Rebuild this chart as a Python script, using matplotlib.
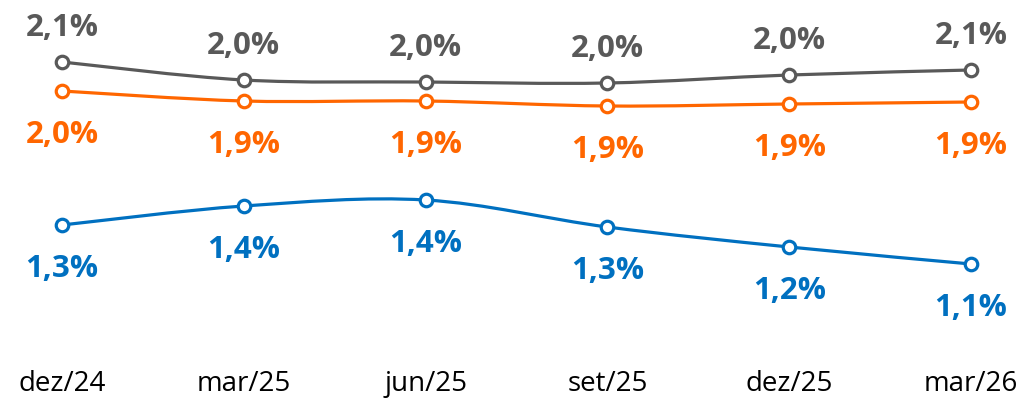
import matplotlib.pyplot as plt
import numpy as np
from matplotlib.path import Path
from matplotlib.patches import PathPatch

plt.rcParams['font.family'] = ['Open Sans', 'DejaVu Sans']

meses = ["dez/24", "mar/25", "jun/25", "set/25", "dez/25", "mar/26"]

# valores (posição) e rótulos exibidos
cinza = [2.115, 2.025, 2.015, 2.01, 2.05, 2.075]
cinza_rot = ["2,1%", "2,0%", "2,0%", "2,0%", "2,0%", "2,1%"]
laranja = [1.97, 1.92, 1.92, 1.895, 1.905, 1.915]
laranja_rot = ["2,0%", "1,9%", "1,9%", "1,9%", "1,9%", "1,9%"]
azul = [1.30, 1.395, 1.425, 1.29, 1.19, 1.105]
azul_rot = ["1,3%", "1,4%", "1,4%", "1,3%", "1,2%", "1,1%"]

series = [
    (cinza, cinza_rot, "#595959", 1),
    (laranja, laranja_rot, "#FF6600", -1),
    (azul, azul_rot, "#0070C0", -1),
]


def curva_suave(ax, x, y, cor):
    # curva tipo "linha suavizada" do Excel (Catmull-Rom -> Bezier)
    x = np.asarray(x, float)
    y = np.asarray(y, float)
    n = len(x)
    verts = [(x[0], y[0])]
    codes = [Path.MOVETO]
    t = 1 / 6
    for i in range(n - 1):
        p0 = (x[max(i - 1, 0)], y[max(i - 1, 0)])
        p1 = (x[i], y[i])
        p2 = (x[i + 1], y[i + 1])
        p3 = (x[min(i + 2, n - 1)], y[min(i + 2, n - 1)])
        c1 = (p1[0] + (p2[0] - p0[0]) * t, p1[1] + (p2[1] - p0[1]) * t)
        c2 = (p2[0] - (p3[0] - p1[0]) * t, p2[1] - (p3[1] - p1[1]) * t)
        verts += [c1, c2, p2]
        codes += [Path.CURVE4] * 3
    ax.add_patch(PathPatch(Path(verts, codes), fill=False, edgecolor=cor,
                           lw=2.3, capstyle="round", zorder=2))


fig = plt.figure(figsize=(10.25, 4), dpi=100)
ax = fig.add_axes([0, 0.1125, 1, 0.8875])
x = np.arange(len(meses))

for vals, rots, cor, lado in series:
    curva_suave(ax, x, vals, cor)
    ax.plot(x, vals, "o", ms=9, mfc="white", mec=cor, mew=2.3, zorder=3)
    for xi, v, r in zip(x, vals, rots):
        off = 34 if lado > 0 else -44
        ax.annotate(r, (xi, v), xytext=(0, off), textcoords="offset pixels",
                    ha="center", va="center", color=cor, fontsize=22.5,
                    fontweight="bold")

ax.set_xlim(-0.341, 5.297)
ax.set_ylim(0.65, 2.425)
ax.set_xticks(x)
ax.set_xticklabels(meses, fontsize=20)
ax.tick_params(axis="x", length=0, pad=11)
ax.set_yticks([])
for s in ax.spines.values():
    s.set_visible(False)

plt.savefig("out.png", dpi=100)
